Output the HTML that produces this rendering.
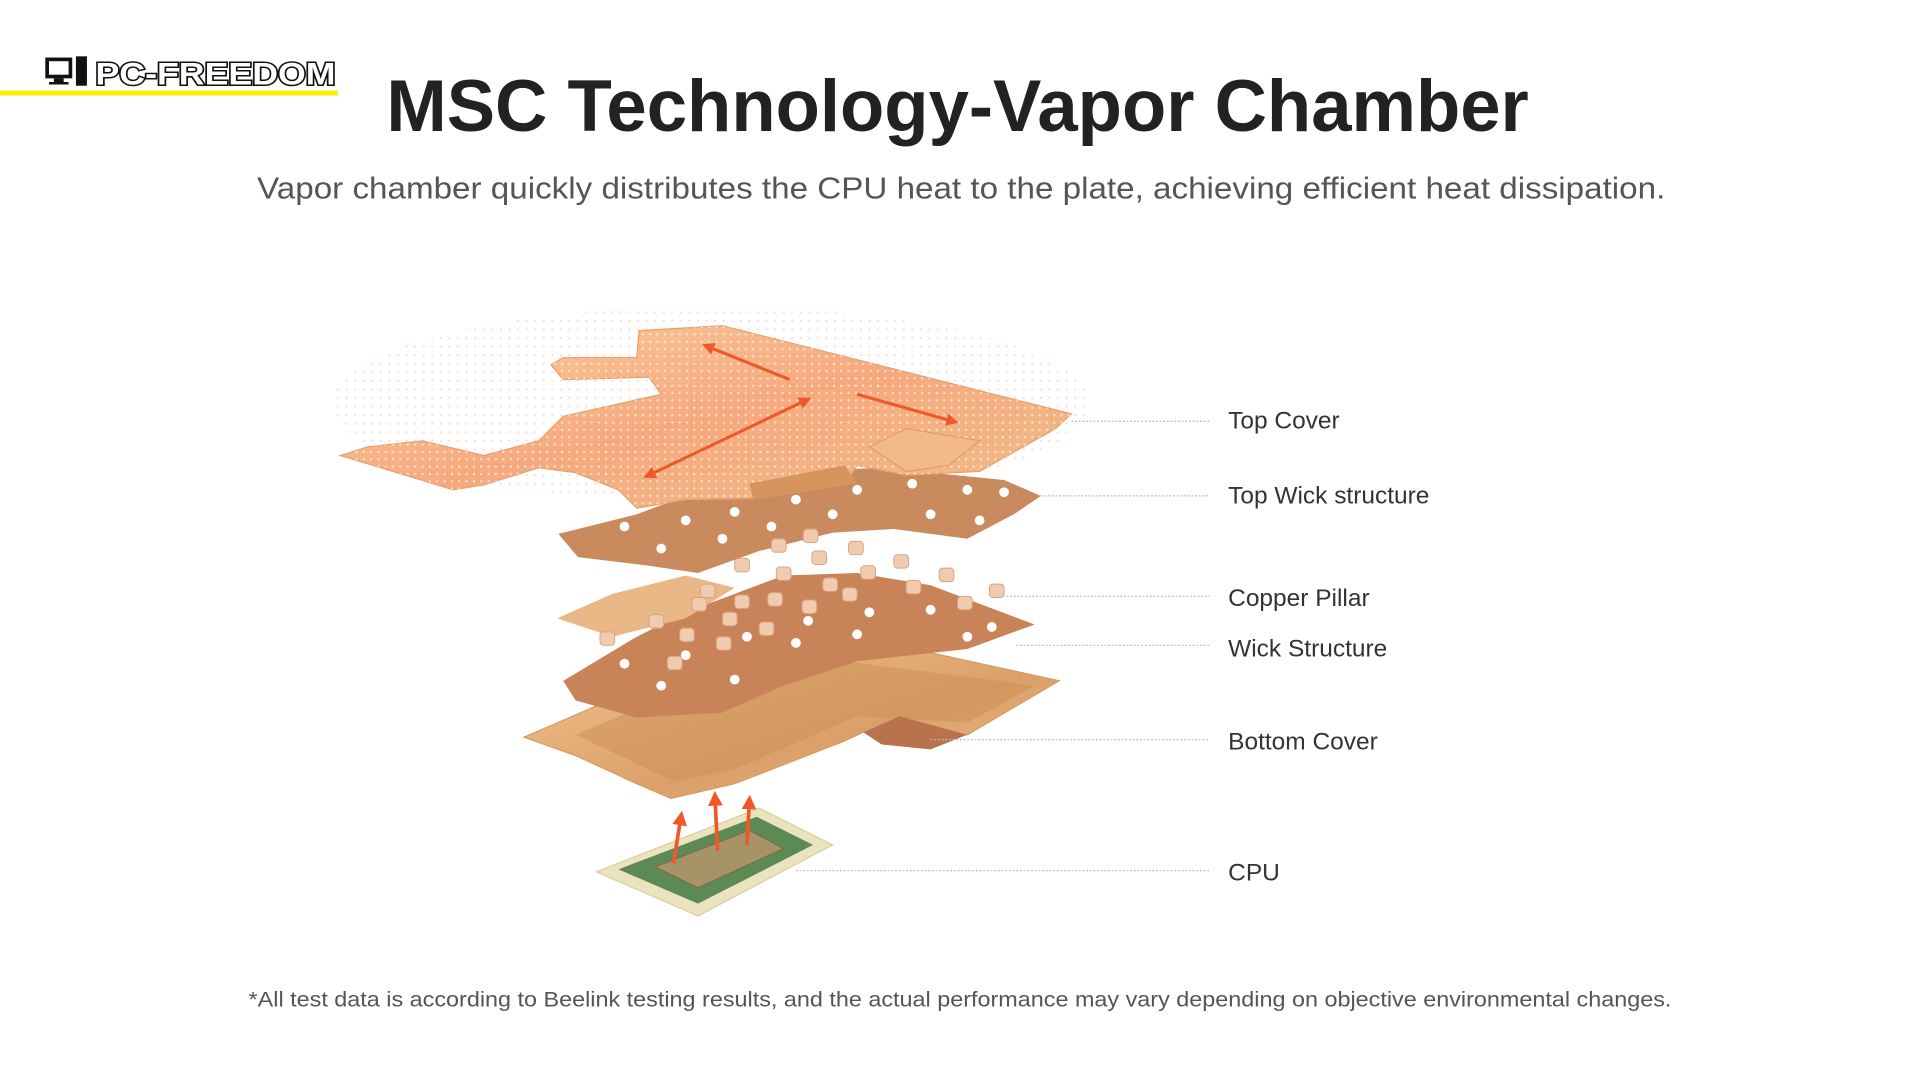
<!DOCTYPE html>
<html><head><meta charset="utf-8">
<style>
html,body{margin:0;padding:0;background:#fff;width:1920px;height:1080px;overflow:hidden}
svg{display:block}
text{font-family:"Liberation Sans",sans-serif}
</style></head>
<body>
<svg width="1920" height="1080" viewBox="0 0 1568 882" xmlns="http://www.w3.org/2000/svg">
<defs>
<linearGradient id="tc" x1="0" y1="0" x2="1" y2="1">
<stop offset="0" stop-color="#f8cfa0"/><stop offset="0.5" stop-color="#f7a97e"/><stop offset="1" stop-color="#eebd86"/></linearGradient>
<linearGradient id="bc" x1="0" y1="0" x2="1" y2="1">
<stop offset="0" stop-color="#f3c58f"/><stop offset="0.6" stop-color="#dba06a"/><stop offset="1" stop-color="#f0c088"/></linearGradient>
<pattern id="dots" width="6" height="6" patternUnits="userSpaceOnUse"><circle cx="3" cy="3" r="1" fill="#fff" opacity="0.6"/></pattern>
<pattern id="rdots" width="7" height="7" patternUnits="userSpaceOnUse"><circle cx="3" cy="3" r="0.9" fill="#f06a40" opacity="0.25"/></pattern>
<marker id="ah" viewBox="0 0 10 10" refX="5" refY="5" markerWidth="4" markerHeight="4" orient="auto-start-reverse"><path d="M0,0L10,5L0,10z" fill="#f0582a"/></marker>
</defs>

<!-- logo -->
<rect x="0" y="74" width="276" height="4" fill="#ffee00"/>
<rect x="37" y="47" width="22" height="17" fill="#111"/><rect x="40" y="50" width="16" height="11" fill="#fff"/>
<rect x="44" y="64" width="8" height="4" fill="#111"/><rect x="40" y="67" width="16" height="2" fill="#111"/>
<rect x="62" y="46" width="9" height="24" fill="#111"/>
<text x="78" y="69" font-size="26" font-weight="bold" fill="#fff" stroke="#111" stroke-width="2.5" paint-order="stroke" textLength="196" lengthAdjust="spacingAndGlyphs">PC-FREEDOM</text>

<!-- title -->
<text x="782" y="107" font-size="60" font-weight="bold" fill="#222" text-anchor="middle" textLength="933" lengthAdjust="spacingAndGlyphs">MSC Technology-Vapor Chamber</text>
<text x="785" y="162" font-size="25" fill="#555" text-anchor="middle" textLength="1150" lengthAdjust="spacingAndGlyphs">Vapor chamber quickly distributes the CPU heat to the plate, achieving efficient heat dissipation.</text>

<!-- haze -->
<ellipse cx="580" cy="330" rx="310" ry="80" fill="url(#rdots)"/>

<!-- bottom cover -->
<path d="M428,602 L560,545 L700,520 L865,556 L790,600 L735,590 L705,598 L690,605 L600,640 L548,652 L520,640 L470,617 Z" fill="url(#bc)" stroke="#d79a60" stroke-width="1"/>
<path d="M470,600 L565,560 L690,540 L845,560 L790,590 L700,585 L600,628 L550,638 Z" fill="#c98b55" opacity="0.45"/>
<path d="M705,598 L735,585 L790,600 L760,612 L720,608 Z" fill="#b9734c"/>
<!-- wick structure -->
<path d="M460,556 L520,520 L560,500 L640,470 L700,468 L760,478 L845,510 L790,530 L700,540 L640,560 L590,582 L520,586 L470,572 Z" fill="#c88458"/>
<path d="M455,505 L500,485 L560,470 L600,480 L560,505 L500,520 Z" fill="#eab886"/>
<!-- top wick -->
<path d="M456,436 L520,420 L560,405 L650,385 L720,382 L820,392 L850,405 L828,420 L790,440 L730,432 L680,435 L620,450 L570,468 L530,462 L472,455 Z" fill="#c98a5e"/>
<g fill="#fff">
<circle cx="510" cy="430" r="4"/><circle cx="560" cy="425" r="4"/><circle cx="600" cy="418" r="4"/><circle cx="650" cy="408" r="4"/><circle cx="700" cy="400" r="4"/><circle cx="745" cy="395" r="4"/><circle cx="790" cy="400" r="4"/><circle cx="820" cy="402" r="4"/>
<circle cx="540" cy="448" r="4"/><circle cx="590" cy="440" r="4"/><circle cx="630" cy="430" r="4"/><circle cx="680" cy="420" r="4"/><circle cx="760" cy="420" r="4"/><circle cx="800" cy="425" r="4"/>
<circle cx="510" cy="542" r="4"/><circle cx="560" cy="535" r="4"/><circle cx="610" cy="520" r="4"/><circle cx="660" cy="507" r="4"/><circle cx="710" cy="500" r="4"/><circle cx="760" cy="498" r="4"/><circle cx="810" cy="512" r="4"/>
<circle cx="540" cy="560" r="4"/><circle cx="600" cy="555" r="4"/><circle cx="650" cy="525" r="4"/><circle cx="700" cy="518" r="4"/><circle cx="790" cy="520" r="4"/>
</g>
<!-- pillars -->
<g fill="#f0cbb0" stroke="#d8a283" stroke-width="0.8">
<rect x="656" y="432" width="12" height="11" rx="3"/><rect x="693" y="442" width="12" height="11" rx="3"/><rect x="730" y="453" width="12" height="11" rx="3"/><rect x="767" y="464" width="12" height="11" rx="3"/><rect x="808" y="477" width="12" height="11" rx="3"/>
<rect x="630" y="440" width="12" height="11" rx="3"/><rect x="663" y="450" width="12" height="11" rx="3"/><rect x="703" y="462" width="12" height="11" rx="3"/><rect x="740" y="474" width="12" height="11" rx="3"/><rect x="782" y="487" width="12" height="11" rx="3"/>
<rect x="600" y="456" width="12" height="11" rx="3"/><rect x="634" y="463" width="12" height="11" rx="3"/><rect x="672" y="472" width="12" height="11" rx="3"/><rect x="688" y="480" width="12" height="11" rx="3"/>
<rect x="572" y="477" width="12" height="11" rx="3"/><rect x="600" y="486" width="12" height="11" rx="3"/><rect x="627" y="484" width="12" height="11" rx="3"/><rect x="655" y="490" width="12" height="11" rx="3"/>
<rect x="565" y="488" width="12" height="11" rx="3"/><rect x="590" y="500" width="12" height="11" rx="3"/><rect x="620" y="508" width="12" height="11" rx="3"/><rect x="530" y="502" width="12" height="11" rx="3"/>
<rect x="490" y="516" width="12" height="11" rx="3"/><rect x="555" y="513" width="12" height="11" rx="3"/><rect x="585" y="520" width="12" height="11" rx="3"/><rect x="545" y="536" width="12" height="11" rx="3"/>
</g>
<!-- top cover -->
<path d="M450,298 L460,292 L520,292 L522,270 L590,266 L875,338 L862,350 L800,385 L740,388 L700,380 L690,395 L615,407 L560,408 L520,415 L505,400 L470,386 L440,382 L395,396 L370,400 L278,372 L300,365 L345,360 L395,372 L440,360 L460,340 L540,322 L530,308 L460,310 Z" fill="url(#tc)" stroke="#e3a36e" stroke-width="1"/>
<path d="M450,298 L460,292 L520,292 L522,270 L590,266 L875,338 L862,350 L800,385 L740,388 L700,380 L690,395 L615,407 L560,408 L520,415 L505,400 L470,386 L440,382 L395,396 L370,400 L278,372 L300,365 L345,360 L395,372 L440,360 L460,340 L540,322 L530,308 L460,310 Z" fill="url(#dots)"/>
<path d="M612,395 L690,380 L700,395 L615,408 Z" fill="#d7955e"/>
<path d="M710,365 L740,350 L800,360 L775,380 L740,385 Z" fill="#f2b98b" stroke="#d79a60" stroke-width="0.8"/>
<!-- arrows -->
<g stroke="#f0582a" stroke-width="2.5" fill="none">
<line x1="645" y1="310" x2="578" y2="283" marker-end="url(#ah)"/>
<line x1="700" y1="322" x2="778" y2="344" marker-end="url(#ah)"/>
<line x1="658" y1="327" x2="530" y2="388" marker-start="url(#ah)" marker-end="url(#ah)"/>
</g>
<!-- CPU -->
<path d="M487,712 L620,660 L680,690 L570,748 Z" fill="#ebe3bf" stroke="#d9cf9f"/>
<path d="M505,710 L618,667 L664,690 L570,738 Z" fill="#5c8a55"/>
<path d="M535,708 L612,678 L640,693 L570,725 Z" fill="#a89268" stroke="#7d6e4b"/>
<g stroke="#f0582a" stroke-width="3" fill="none">
<line x1="550" y1="705" x2="556" y2="668" marker-end="url(#ah)"/>
<line x1="586" y1="695" x2="584" y2="652" marker-end="url(#ah)"/>
<line x1="610" y1="690" x2="612" y2="655" marker-end="url(#ah)"/>
</g>

<!-- leaders -->
<g stroke="#bbb" stroke-width="1" stroke-dasharray="1.5,1.5">
<line x1="875" y1="344" x2="988" y2="344"/>
<line x1="850" y1="405" x2="988" y2="405"/>
<line x1="822" y1="487" x2="988" y2="487"/>
<line x1="830" y1="527" x2="988" y2="527"/>
<line x1="760" y1="604" x2="988" y2="604"/>
<line x1="650" y1="711" x2="988" y2="711"/>
</g>
<g font-size="20" fill="#333">
<text x="1003" y="350">Top Cover</text>
<text x="1003" y="411">Top Wick structure</text>
<text x="1003" y="495">Copper Pillar</text>
<text x="1003" y="536">Wick Structure</text>
<text x="1003" y="612">Bottom Cover</text>
<text x="1003" y="719">CPU</text>
</g>
<text x="784" y="822" font-size="17.5" fill="#555" text-anchor="middle" textLength="1162" lengthAdjust="spacingAndGlyphs">*All test data is according to Beelink testing results, and the actual performance may vary depending on objective environmental changes.</text>
</svg>
</body></html>
